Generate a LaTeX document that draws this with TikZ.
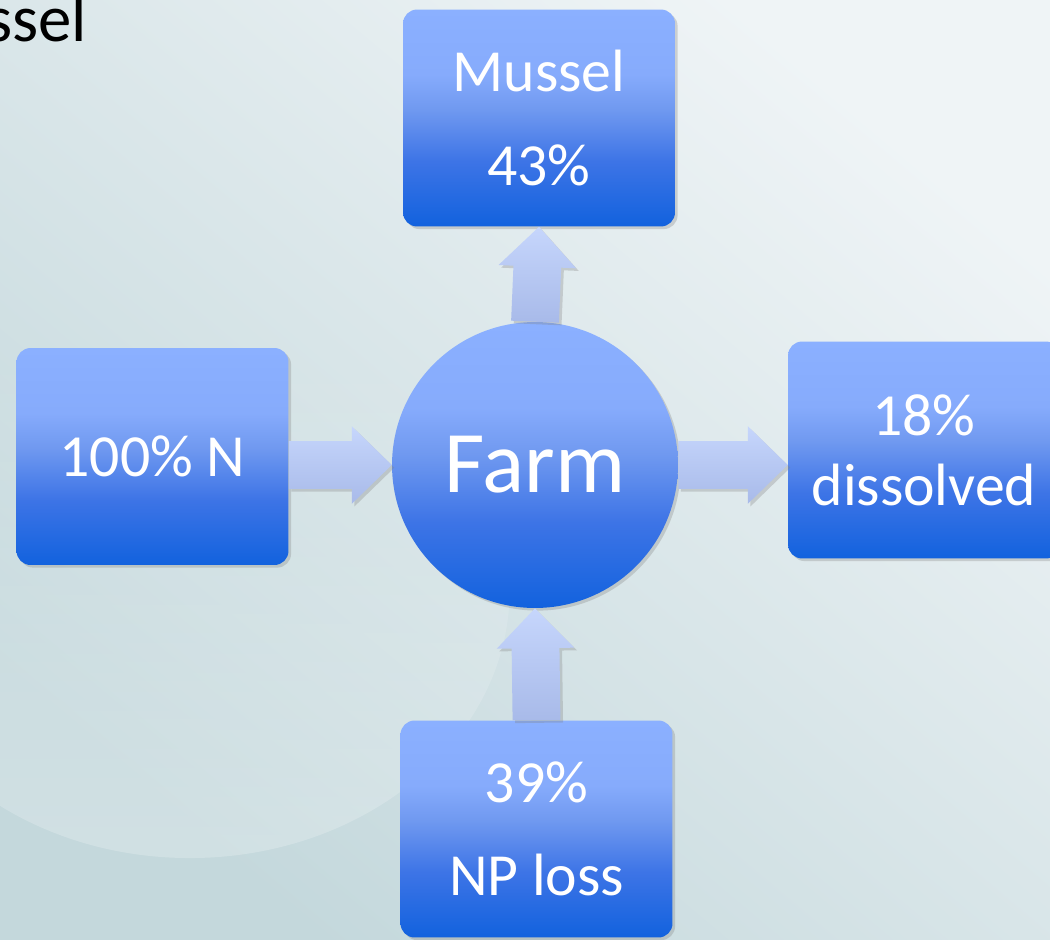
\documentclass[tikz,border=0pt]{standalone}
\usepackage{fontspec}
\setmainfont{Carlito}
\usetikzlibrary{calc,shadows,fadings}

\definecolor{boxtop}{HTML}{8BB0FF}
\definecolor{boxhi}{HTML}{86ABFC}
\definecolor{boxmid}{HTML}{7099F0}
\definecolor{boxlow}{HTML}{3D74E6}
\definecolor{boxbot}{HTML}{1262DE}
\definecolor{arrtop}{HTML}{C6D6FC}
\definecolor{arrbot}{HTML}{A8BAE9}
\definecolor{bglight}{HTML}{EFF4F6}
\definecolor{bgdark}{HTML}{C4D8DC}

% box fill, dark at the bottom
\pgfdeclareverticalshading{boxshade}{100bp}{color(0bp)=(boxbot); color(25bp)=(boxbot); color(40bp)=(boxlow); color(52bp)=(boxmid); color(60bp)=(boxhi); color(75bp)=(boxtop); color(100bp)=(boxtop)}

\newcommand\shaftw{13.6pt}
\newcommand\headw{22.1pt}
\newcommand\headl{22.7pt}
% block arrow from #1 to #2
\newcommand\flowarrow[2]{%
  \coordinate (h) at ($(#2)!\headl!(#1)$);
  \shade[flow] ($(#1)!\shaftw!90:(#2)$) -- ($(h)!\shaftw!90:(#2)$)
    -- ($(h)!\headw!90:(#2)$) -- (#2) -- ($(h)!\headw!-90:(#2)$)
    -- ($(h)!\shaftw!-90:(#2)$) -- ($(#1)!\shaftw!-90:(#2)$) -- cycle;
}

\tikzset{
  box/.style={rectangle, rounded corners=8pt, minimum width=5.44cm, minimum height=4.34cm,
    shade, shading=boxshade, text=white, align=center, font=\fontsize{34}{40}\selectfont,
    drop shadow={opacity=0.3, shadow xshift=1.5pt, shadow yshift=-1.5pt}},
  hub/.style={circle, minimum size=5.72cm, inner sep=0pt, shade, shading=boxshade,
    text=white, font=\fontsize{50}{60}\selectfont,
    drop shadow={opacity=0.3, shadow xshift=1.5pt, shadow yshift=-1.5pt}},
  flow/.style={top color=arrtop, bottom color=arrbot,
    drop shadow={opacity=0.3, shadow xshift=1.5pt, shadow yshift=-1.5pt}}
}

\begin{document}
\begin{tikzpicture}[x=0.02cm, y=-0.02cm]
	\useasboundingbox (0,0) rectangle (1050,939);
	\clip (0,0) rectangle (1050,939);
	%fond
	\shade[top color=bglight, bottom color=bgdark, shading angle=-40] (0,0) rectangle (1050,939);
	\fill[white, opacity=0.22, path fading=north] (190,590) ellipse [x radius=6.4cm, y radius=5.36cm];
	%titre coupe
	\node[anchor=base east, font=\fontsize{38}{40}\selectfont] (title) at (93,42) {ssel};
	%les boites
	\node[hub] (farm) at (535,465) {Farm};
	\node[box] (mussel) at (539,118) {Mussel\\[14pt]43\%};
	\node[box] (nin) at (152.5,456.5) {100\% N};
	\node[box] (diss) at (924,450) {18\%\\dissolved};
	\node[box] (loss) at (536.5,829) {39\%\\[13pt]NP loss};
	%fleches
	\coordinate (inend) at (nin.east |- farm.center);
	\coordinate (dissend) at (farm.east -| diss.west);
	\flowarrow{inend}{farm.west}
	\flowarrow{farm.north}{mussel.south}
	\flowarrow{farm.east}{dissend}
	\flowarrow{loss.north}{farm.south}
\end{tikzpicture}
\end{document}
